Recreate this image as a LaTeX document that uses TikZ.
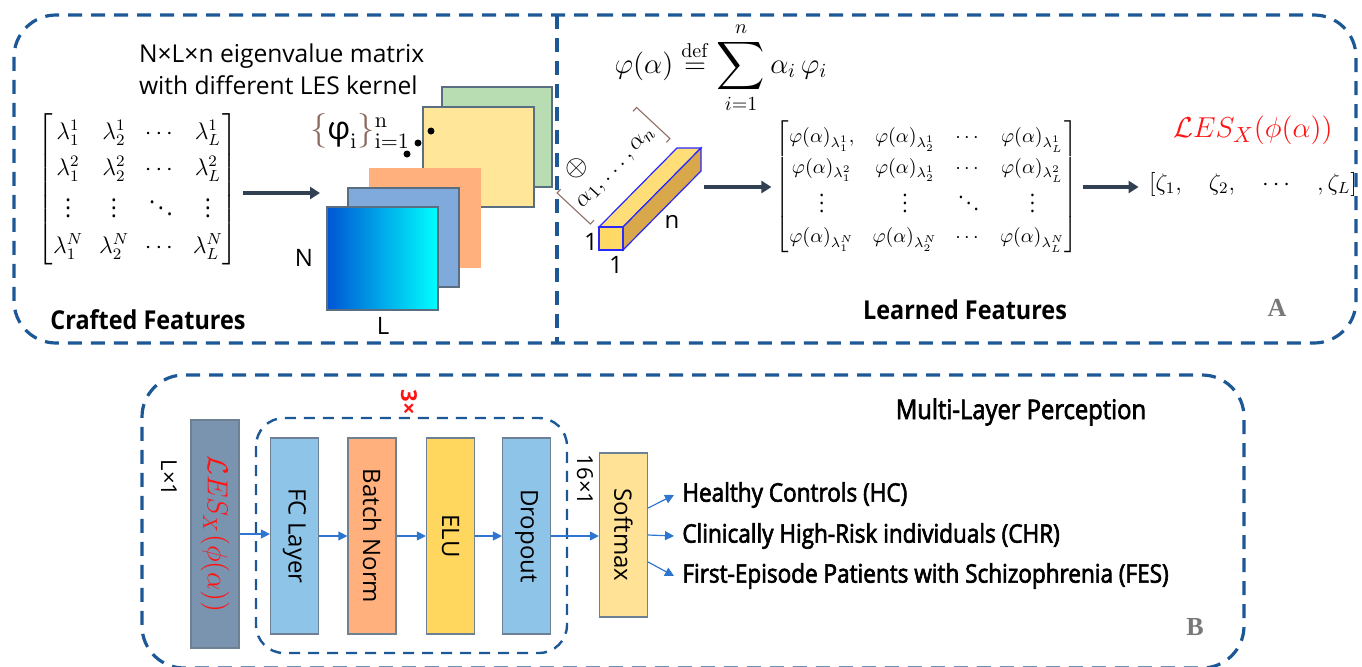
\documentclass[tikz,border=0pt]{standalone}
\usepackage{amsmath,amssymb}
\usepackage[no-math]{fontspec}
\setmainfont{Open Sans}
\newfontfamily\headfont[FakeStretch=0.9]{Open Sans}
\newfontfamily\outfont[FakeStretch=0.88,FakeBold=2.5]{Open Sans}
\newfontfamily\tagfont{Liberation Serif}
\usetikzlibrary{arrows.meta,positioning,calc}

\definecolor{boxblue}{RGB}{28,88,150}
\definecolor{arrdark}{RGB}{50,64,84}
\definecolor{arrblue}{RGB}{46,117,208}
\definecolor{lesred}{RGB}{255,20,20}
\definecolor{lesfill}{RGB}{122,148,176}
\definecolor{fcfill}{RGB}{142,196,232}
\definecolor{bnfill}{RGB}{255,176,124}
\definecolor{elufill}{RGB}{255,215,94}
\definecolor{softfill}{RGB}{255,226,150}
\definecolor{blkedge}{RGB}{110,128,148}
\definecolor{sqedge}{RGB}{90,110,130}
\definecolor{sqgreen}{RGB}{185,221,178}
\definecolor{sqyellow}{RGB}{255,230,153}
\definecolor{sqorange}{RGB}{255,176,124}
\definecolor{sqblue}{RGB}{127,170,219}
\definecolor{frontl}{RGB}{0,85,212}
\definecolor{frontr}{RGB}{0,255,255}
\definecolor{barfront}{RGB}{255,217,102}
\definecolor{bartop}{RGB}{255,222,120}
\definecolor{barside}{RGB}{217,168,74}
\definecolor{barline}{RGB}{40,40,255}
\definecolor{bracecol}{RGB}{140,105,95}
\definecolor{taggray}{RGB}{120,120,120}

\tikzset{
  dbox/.style={draw=boxblue, line width=1.6pt, dash pattern=on 7pt off 4.5pt},
  ibox/.style={draw=boxblue, line width=1.2pt, dash pattern=on 5.5pt off 4pt},
  sq/.style={draw=sqedge, line width=0.6pt},
  blk/.style={draw=blkedge, line width=0.6pt, minimum width=24pt, minimum height=98pt,
    inner sep=0pt, font=\fontsize{12}{14}\selectfont},
  darr/.style={draw=arrdark, line width=1.6pt, -{Triangle[length=5pt,width=6pt]}},
  barr/.style={draw=arrblue, line width=0.6pt, -{Triangle[length=4.5pt,width=4.5pt]}},
  lbl/.style={font=\fontsize{12}{14}\selectfont, inner sep=1pt},
  outtxt/.style={font=\outfont\fontsize{12.8}{15}\selectfont, inner sep=4pt, anchor=west},
  tag/.style={font=\tagfont\bfseries\fontsize{13}{15}\selectfont, text=taggray},
}

\begin{document}
\begin{tikzpicture}[x=0.5pt,y=-0.5pt]
    \useasboundingbox (0,0) rectangle (1362,666);

    % Panel A frame
    \draw[dbox, rounded corners=21pt] (557,15) -- (1356,15) -- (1356,343) -- (14,343) -- (14,15) -- cycle;
    \draw[dbox] (557,15) -- (557,343);

    % Crafted features
    \node[align=left, anchor=west, font=\fontsize{12.3}{16}\selectfont] (title) at (132,69)
        {N×L×n eigenvalue matrix\\with different LES kernel};
    \node[inner sep=2pt, font=\fontsize{11.5}{14}\selectfont] (lammat) at (138,189) {%
        \setlength{\arraycolsep}{4pt}\renewcommand{\arraystretch}{1.3}%
        $\begin{bmatrix}
            \lambda_1^1 & \lambda_2^1 & \cdots & \lambda_L^1\\
            \lambda_1^2 & \lambda_2^2 & \cdots & \lambda_L^2\\
            \vdots & \vdots & \ddots & \vdots\\
            \lambda_1^N & \lambda_2^N & \cdots & \lambda_L^N
        \end{bmatrix}$};
    \coordinate (stackin) at (320,193);
    \draw[darr] (lammat.east |- stackin) -- (stackin);

    % stacked kernels
    \draw[sq, fill=sqgreen] (442,87) rectangle (552,187);
    \draw[sq, fill=sqyellow] (423,107) rectangle (534,207);
    \fill (407,154) circle (3.5) (418,143) circle (3.5) (431,131) circle (3.5);
    \fill[sqorange] (369,168) rectangle (481,268);
    \draw[sq, fill=sqblue] (348,188) rectangle (459,287);
    \draw[sq, left color=frontl, right color=frontr] (327,207) rectangle (438,310);
    \node[font=\fontsize{16}{18}\selectfont] (phiset) at (360,131)
        {${\color{bracecol}\{}\text{φ}_{\mathrm{i}}{\color{bracecol}\}}^{\mathrm{n}}_{\mathrm{i=1}}$};
    \node[lbl] (dimN) at (304,258) {N};
    \node[lbl] (dimL) at (383,326) {L};
    \node[font=\headfont\bfseries\fontsize{13}{15}\selectfont] (crafted) at (148,320) {Crafted Features};

    % Learned features
    \node[font=\fontsize{14}{17}\selectfont] (defeq) at (721,68)
        {$\varphi(\alpha) \overset{\mathrm{def}}{=} \mathop{\vcenter{\hbox{\scalebox{1.2}{$\displaystyle\sum$}}}}\limits_{i=1}^{n} \alpha_i\,\varphi_i$};
    \node[font=\fontsize{15}{17}\selectfont] (otimes) at (577,168) {$\otimes$};
    \node[rotate=47, font=\fontsize{13}{15}\selectfont] (alphas) at (614,166)
        {${\color{bracecol}\Big[}\alpha_1, \dots, \alpha_n{\color{bracecol}\Big]}$};
    \draw[draw=barline, line width=0.6pt, fill=bartop] (599,227) -- (677,148) -- (701,148) -- (623,227) -- cycle;
    \draw[draw=barline, line width=0.6pt, fill=barside] (623,227) -- (701,148) -- (701,171) -- (623,250) -- cycle;
    \draw[draw=barline, line width=0.6pt, fill=barfront] (599,227) rectangle (623,250);
    \node[lbl] (one1) at (591,242) {1};
    \node[lbl] (one2) at (616,265) {1};
    \node[lbl] (dimn) at (672,222) {n};
    \coordinate (barend) at (704,187);

    \node[inner sep=2pt, font=\fontsize{10}{12}\selectfont] (phimat) at (927,187) {%
        \setlength{\arraycolsep}{4.5pt}\renewcommand{\arraystretch}{1.25}%
        $\begin{bmatrix}
            \varphi(\alpha)_{\lambda_1^1}, & \varphi(\alpha)_{\lambda_2^1} & \cdots & \varphi(\alpha)_{\lambda_L^1}\\
            \varphi(\alpha)_{\lambda_1^2} & \varphi(\alpha)_{\lambda_2^1} & \cdots & \varphi(\alpha)_{\lambda_L^2}\\
            \vdots & \vdots & \ddots & \vdots\\
            \varphi(\alpha)_{\lambda_1^N} & \varphi(\alpha)_{\lambda_2^N} & \cdots & \varphi(\alpha)_{\lambda_L^N}
        \end{bmatrix}$};
    \node[font=\fontsize{11.5}{13}\selectfont, inner sep=2pt] (zeta) at (1253,184)
        {$[\zeta_1,\quad \zeta_2,\quad \cdots\quad ,\zeta_L]$};
    \node[text=lesred, font=\fontsize{15}{18}\selectfont] (lestop) at (1253,130) {$\mathcal{L}ES_{X}(\phi(\alpha))$};
    \draw[darr] (barend) -- (phimat.west);
    \draw[darr, shorten >=3pt] (phimat.east) -- (phimat.east -| zeta.west);
    \node[font=\headfont\bfseries\fontsize{13}{15}\selectfont] (learned) at (965,310) {Learned Features};
    \node[tag] (tagA) at (1277,308) {A};

    % Panel B frame
    \draw[dbox, rounded corners=21pt] (700,375) -- (1244,375) -- (1244,668) -- (142,668) -- (142,375) -- cycle;
    \draw[ibox, rounded corners=14pt] (256,418) rectangle (567,653);
    \node[font=\outfont\fontsize{13.5}{16}\selectfont] (mlp) at (1021,412) {Multi-Layer Perception};
    \node[text=lesred, font=\bfseries\fontsize{11}{13}\selectfont] (times3) at (409,402) {\rotatebox{-90}{3×}};

    % MLP blocks
    \node[blk, fill=lesfill, minimum height=114pt] (les) at (215,534)
        {\rotatebox{-90}{\textcolor{lesred}{\fontsize{14}{16}\selectfont$\mathcal{L}ES_{X}(\phi(\alpha))$}}};
    \node[blk, fill=fcfill] (fc) at (294.5,536) {\rotatebox{-90}{FC Layer}};
    \node[blk, fill=bnfill] (bn) at (372,536) {\rotatebox{-90}{Batch Norm}};
    \node[blk, fill=elufill] (elu) at (450.5,536) {\rotatebox{-90}{ELU}};
    \node[blk, fill=fcfill] (drop) at (526.5,536) {\rotatebox{-90}{Dropout}};
    \node[blk, fill=softfill, minimum height=82pt] (soft) at (623.5,535) {\rotatebox{-90}{Softmax}};
    \node[lbl, font=\fontsize{11}{13}\selectfont] (lx1) at (169,478) {\rotatebox{-90}{L×1}};
    \node[lbl, font=\fontsize{11}{13}\selectfont] (sx1) at (585,480) {\rotatebox{-90}{16×1}};

    \draw[barr] (les.east) -- (les.east -| fc.west);
    \draw[barr] (fc.east) -- (bn.west);
    \draw[barr] (bn.east) -- (elu.west);
    \draw[barr] (elu.east) -- (drop.west);
    \draw[barr] (drop.east) -- (drop.east -| soft.west);

    % outputs
    \node[outtxt] (hc) at (674,495) {Healthy Controls (HC)};
    \node[outtxt] (chr) at (674,536) {Clinically High-Risk individuals (CHR)};
    \node[outtxt] (fes) at (674,576) {First-Episode Patients with Schizophrenia (FES)};
    \draw[barr] ([yshift=13.5pt]soft.east) -- (hc.west);
    \draw[barr] (soft.east) -- (chr.west);
    \draw[barr] ([yshift=-13.5pt]soft.east) -- (fes.west);
    \node[tag] (tagB) at (1195,627) {B};
\end{tikzpicture}
\end{document}
